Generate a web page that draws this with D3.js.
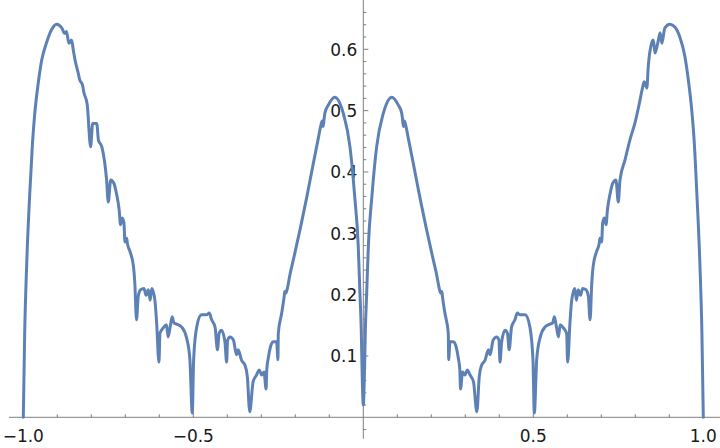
<!DOCTYPE html>
<html>
<head>
<meta charset="utf-8">
<script src="https://cdn.jsdelivr.net/npm/d3@7"></script>
<style>
  html, body { margin: 0; padding: 0; background: #fff; }
  svg { display: block; }
  .tick-label { font-family: 'DejaVu Sans', sans-serif; font-size: 17px; fill: #1a1a1a; }
</style>
</head>
<body>
<div class="chart"></div>
<script>
'use strict';

// curve samples, left half then right half
const xLeft = [-1.000, -0.996, -0.990, -0.981, -0.973, -0.966, -0.956, -0.946, -0.931, -0.917,
    -0.902, -0.887, -0.878, -0.873, -0.866, -0.858, -0.853, -0.848, -0.838, -0.834,
    -0.826, -0.822, -0.812, -0.802, -0.796, -0.784, -0.779, -0.769, -0.755, -0.750,
    -0.743, -0.734, -0.726, -0.718, -0.714, -0.709, -0.704, -0.701, -0.696, -0.694,
    -0.686, -0.676, -0.672, -0.667, -0.662, -0.655, -0.645, -0.639, -0.632, -0.627,
    -0.622, -0.613, -0.608, -0.601, -0.598, -0.588, -0.579, -0.574, -0.567, -0.562,
    -0.557, -0.549, -0.534, -0.520, -0.510, -0.503, -0.499, -0.490, -0.476, -0.461,
    -0.453, -0.446, -0.436, -0.429, -0.424, -0.417, -0.407, -0.402, -0.399, -0.392,
    -0.382, -0.373, -0.368, -0.358, -0.348, -0.341, -0.334, -0.324, -0.314, -0.306,
    -0.299, -0.292, -0.286, -0.284, -0.279, -0.273, -0.265, -0.255, -0.251, -0.250,
    -0.240, -0.233, -0.231, -0.229, -0.214, -0.167, -0.147, -0.132, -0.126, -0.121,
    -0.118, -0.115, -0.113, -0.103, -0.084, -0.059, -0.039, -0.025, -0.015, -0.010,
    -0.006, -0.003];
const yLeft = [0.000, 0.135, 0.250, 0.365, 0.447, 0.497, 0.545, 0.582, 0.612, 0.632,
    0.641, 0.635, 0.626, 0.629, 0.610, 0.615, 0.599, 0.583, 0.560, 0.550,
    0.542, 0.530, 0.510, 0.441, 0.479, 0.479, 0.452, 0.441, 0.387, 0.351,
    0.387, 0.382, 0.365, 0.338, 0.314, 0.325, 0.317, 0.286, 0.292, 0.284,
    0.270, 0.246, 0.219, 0.159, 0.197, 0.208, 0.210, 0.199, 0.208, 0.191,
    0.210, 0.191, 0.156, 0.090, 0.137, 0.146, 0.151, 0.131, 0.151, 0.164,
    0.154, 0.152, 0.147, 0.130, 0.094, 0.007, 0.094, 0.147, 0.167, 0.167,
    0.170, 0.159, 0.147, 0.110, 0.137, 0.142, 0.123, 0.090, 0.126, 0.131,
    0.126, 0.102, 0.110, 0.093, 0.085, 0.066, 0.009, 0.058, 0.069, 0.077,
    0.069, 0.074, 0.046, 0.077, 0.098, 0.115, 0.123, 0.123, 0.094, 0.137,
    0.170, 0.196, 0.205, 0.202, 0.237, 0.357, 0.414, 0.456, 0.473, 0.483,
    0.474, 0.488, 0.496, 0.509, 0.522, 0.496, 0.440, 0.358, 0.281, 0.203,
    0.142, 0.061];

const xRight = [0.000, 0.003, 0.006, 0.010, 0.015, 0.025, 0.039, 0.059, 0.084, 0.103,
    0.113, 0.115, 0.118, 0.121, 0.126, 0.132, 0.147, 0.167, 0.214, 0.229,
    0.231, 0.233, 0.240, 0.250, 0.251, 0.255, 0.265, 0.273, 0.279, 0.284,
    0.286, 0.292, 0.299, 0.306, 0.314, 0.324, 0.334, 0.341, 0.348, 0.358,
    0.368, 0.373, 0.382, 0.392, 0.399, 0.402, 0.407, 0.417, 0.424, 0.429,
    0.436, 0.446, 0.453, 0.461, 0.476, 0.490, 0.499, 0.503, 0.510, 0.520,
    0.534, 0.549, 0.557, 0.562, 0.567, 0.574, 0.579, 0.588, 0.598, 0.601,
    0.608, 0.613, 0.622, 0.627, 0.632, 0.639, 0.645, 0.655, 0.662, 0.667,
    0.672, 0.676, 0.686, 0.694, 0.696, 0.701, 0.704, 0.709, 0.714, 0.718,
    0.726, 0.734, 0.743, 0.750, 0.755, 0.770, 0.784, 0.799, 0.812, 0.822,
    0.826, 0.834, 0.838, 0.848, 0.853, 0.858, 0.866, 0.873, 0.878, 0.887,
    0.902, 0.917, 0.931, 0.946, 0.956, 0.966, 0.973, 0.981, 0.990, 0.996,
    1.000];
const yRight = [0.020, 0.061, 0.142, 0.203, 0.281, 0.358, 0.440, 0.496, 0.522, 0.509,
    0.496, 0.488, 0.474, 0.483, 0.473, 0.456, 0.414, 0.357, 0.237, 0.202,
    0.205, 0.196, 0.170, 0.137, 0.094, 0.123, 0.123, 0.115, 0.098, 0.077,
    0.046, 0.074, 0.069, 0.077, 0.069, 0.058, 0.009, 0.066, 0.085, 0.093,
    0.110, 0.102, 0.126, 0.131, 0.126, 0.090, 0.123, 0.142, 0.137, 0.110,
    0.147, 0.159, 0.170, 0.167, 0.167, 0.147, 0.094, 0.007, 0.094, 0.130,
    0.147, 0.152, 0.154, 0.164, 0.151, 0.131, 0.151, 0.146, 0.137, 0.090,
    0.156, 0.191, 0.210, 0.191, 0.208, 0.199, 0.210, 0.208, 0.197, 0.159,
    0.219, 0.246, 0.270, 0.284, 0.292, 0.286, 0.317, 0.325, 0.314, 0.338,
    0.365, 0.382, 0.387, 0.351, 0.387, 0.420, 0.452, 0.480, 0.512, 0.539,
    0.547, 0.537, 0.571, 0.610, 0.615, 0.594, 0.610, 0.627, 0.610, 0.635,
    0.641, 0.636, 0.620, 0.588, 0.550, 0.501, 0.452, 0.365, 0.250, 0.135,
    0.000];

const xMajorTicks = [-1.0, -0.5, 0.5, 1.0];
const xTickLabels = ['\u22121.0', '\u22120.5', '0.5', '1.0'];
const xMinorTicks = [-0.9, -0.8, -0.7, -0.6, -0.4, -0.3, -0.2, -0.1, 0.1, 0.2, 0.3, 0.4, 0.6, 0.7, 0.8, 0.9];
const yMajorTicks = [0.1, 0.2, 0.3, 0.4, 0.5, 0.6];
const yTickLabels = ['0.1', '0.2', '0.3', '0.4', '0.5', '0.6'];
const yMinorTicks = [-0.02, 0.02, 0.04, 0.06, 0.08, 0.12, 0.14, 0.16, 0.18, 0.22, 0.24, 0.26, 0.28,
    0.32, 0.34, 0.36, 0.38, 0.42, 0.44, 0.46, 0.48, 0.52, 0.54, 0.56, 0.58, 0.62, 0.64, 0.66];

const width = 720;
const height = 448;
const axisColor = '#7f7f7f';

const x = d3.scaleLinear().domain([-1, 1]).range([23.3, 703.3]);
const y = d3.scaleLinear().domain([0, 0.6]).range([417.3, 49.3]);

const svg = d3.select('.chart')
    .append('svg')
    .attr('width', width)
    .attr('height', height);

// axes (Mathematica style: crossing at origin, ticks pointing inward)
const axes = svg.append('g');

axes.append('line')
    .attr('x1', 9).attr('x2', width)
    .attr('y1', y(0)).attr('y2', y(0))
    .attr('stroke', axisColor).attr('stroke-width', 1);

axes.append('line')
    .attr('x1', x(0)).attr('x2', x(0))
    .attr('y1', 0).attr('y2', y(-0.035))
    .attr('stroke', axisColor).attr('stroke-width', 1);

axes.selectAll('.xmajor')
    .data(xMajorTicks)
    .enter().append('line')
    .attr('x1', (d) => x(d)).attr('x2', (d) => x(d))
    .attr('y1', y(0)).attr('y2', y(0) - 5)
    .attr('stroke', axisColor);

axes.selectAll('.xminor')
    .data(xMinorTicks)
    .enter().append('line')
    .attr('x1', (d) => x(d)).attr('x2', (d) => x(d))
    .attr('y1', y(0)).attr('y2', y(0) - 3)
    .attr('stroke', axisColor);

axes.selectAll('.ymajor')
    .data(yMajorTicks)
    .enter().append('line')
    .attr('x1', x(0)).attr('x2', x(0) + 5)
    .attr('y1', (d) => y(d)).attr('y2', (d) => y(d))
    .attr('stroke', axisColor);

axes.selectAll('.yminor')
    .data(yMinorTicks)
    .enter().append('line')
    .attr('x1', x(0)).attr('x2', x(0) + 3)
    .attr('y1', (d) => y(d)).attr('y2', (d) => y(d))
    .attr('stroke', axisColor);

axes.selectAll('.xlabel')
    .data(xMajorTicks)
    .enter().append('text')
    .attr('class', 'tick-label')
    .attr('x', (d) => x(d))
    .attr('y', 441.5)
    .attr('text-anchor', 'middle')
    .text((d, i) => xTickLabels[i]);

axes.selectAll('.ylabel')
    .data(yMajorTicks)
    .enter().append('text')
    .attr('class', 'tick-label')
    .attr('x', x(0) - 6)
    .attr('y', (d) => y(d) + 6.3)
    .attr('text-anchor', 'end')
    .text((d, i) => yTickLabels[i]);

// the curve
const points = xLeft.map((d, i) => [d, yLeft[i]])
    .concat(xRight.map((d, i) => [d, yRight[i]]));

const line = d3.line()
    .curve(d3.curveMonotoneX)
    .x((d) => x(d[0]))
    .y((d) => y(d[1]));

svg.append('path')
    .datum(points)
    .attr('d', line)
    .attr('fill', 'none')
    .attr('stroke', '#5e81b5')
    .attr('stroke-width', 3)
    .attr('stroke-linejoin', 'round')
    .attr('stroke-linecap', 'round');
</script>
</body>
</html>
